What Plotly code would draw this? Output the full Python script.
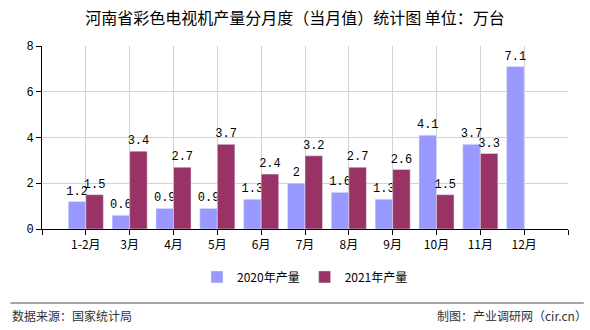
import plotly.graph_objects as go

categories = ["1-2月", "3月", "4月", "5月", "6月", "7月", "8月", "9月", "10月", "11月", "12月"]
values_2020 = [1.2, 0.6, 0.9, 0.9, 1.3, 2, 1.6, 1.3, 4.1, 3.7, 7.1]
values_2021 = [1.5, 3.4, 2.7, 3.7, 2.4, 3.2, 2.7, 2.6, 1.5, 3.3, None]
series_names = ["2020年产量", "2021年产量"]
y_ticks = [0, 2, 4, 6, 8]

xpos = list(range(len(categories)))
label_font = dict(family="Liberation Mono, DejaVu Sans Mono, monospace", size=12, color="#000000")

fig = go.Figure()
fig.add_trace(go.Bar(
    x=xpos, y=values_2020, name=series_names[0], marker_color="#9999FF",
    text=[str(v) for v in values_2020], textposition="outside", textfont=label_font,
    cliponaxis=False,
))
fig.add_trace(go.Bar(
    x=xpos, y=values_2021, name=series_names[1], marker_color="#993366",
    text=["" if v is None else str(v) for v in values_2021], textposition="outside",
    textfont=label_font, cliponaxis=False,
))

fig.update_layout(
    width=590, height=330,
    margin=dict(l=42, r=22, t=46, b=101),
    paper_bgcolor="white", plot_bgcolor="white",
    barmode="group", bargap=0.2, bargroupgap=0,
    uniformtext=dict(minsize=12, mode="show"),
    font=dict(family="Noto Sans CJK SC, sans-serif", size=12, color="#000000"),
    title=dict(text="河南省彩色电视机产量分月度（当月值）统计图 单位：万台",
               x=0.5, xanchor="center", y=0.945, yanchor="middle",
               font=dict(size=16, color="#000000", family="Noto Sans CJK SC, sans-serif")),
    legend=dict(orientation="h", x=0.5, xanchor="center", y=-0.262, yanchor="middle",
                bgcolor="rgba(0,0,0,0)",
                font=dict(size=12, family="Noto Sans CJK SC, sans-serif"),
                itemwidth=30, traceorder="normal"),
    showlegend=True,
)

fig.update_xaxes(
    range=[-1, len(categories)], tickmode="array",
    tickvals=[-1] + xpos + [len(categories)],
    ticktext=[""] + categories + [""],
    showgrid=True, gridcolor="#d3d3d3", gridwidth=1,
    showline=True, linecolor="#000000", linewidth=1,
    ticks="outside", ticklen=5, tickcolor="#000000",
    tickfont=dict(size=12, family="Noto Sans CJK SC, sans-serif"),
    zeroline=False, fixedrange=True,
)
fig.update_yaxes(
    range=[0, 8], tickmode="array", tickvals=y_ticks,
    showgrid=True, gridcolor="#d3d3d3", gridwidth=1,
    showline=True, linecolor="#000000", linewidth=1,
    ticks="outside", ticklen=5, tickcolor="#000000",
    tickfont=dict(size=12, family="Liberation Mono, monospace"),
    zeroline=False, fixedrange=True,
)

fig.add_shape(type="line", xref="paper", yref="paper",
              x0=-0.06, x1=1.03, y0=-0.405, y1=-0.405,
              line=dict(color="#888888", width=1.5))
fig.add_annotation(text="数据来源：国家统计局", xref="paper", yref="paper",
                   x=-0.06, xanchor="left", y=-0.475, yanchor="middle", showarrow=False,
                   font=dict(size=12, color="#333333", family="Noto Sans CJK SC, sans-serif"))
fig.add_annotation(text="制图：产业调研网（cir.cn）", xref="paper", yref="paper",
                   x=1.04, xanchor="right", y=-0.475, yanchor="middle", showarrow=False,
                   font=dict(size=12, color="#333333", family="Noto Sans CJK SC, sans-serif"))

fig.write_html("out.html")
